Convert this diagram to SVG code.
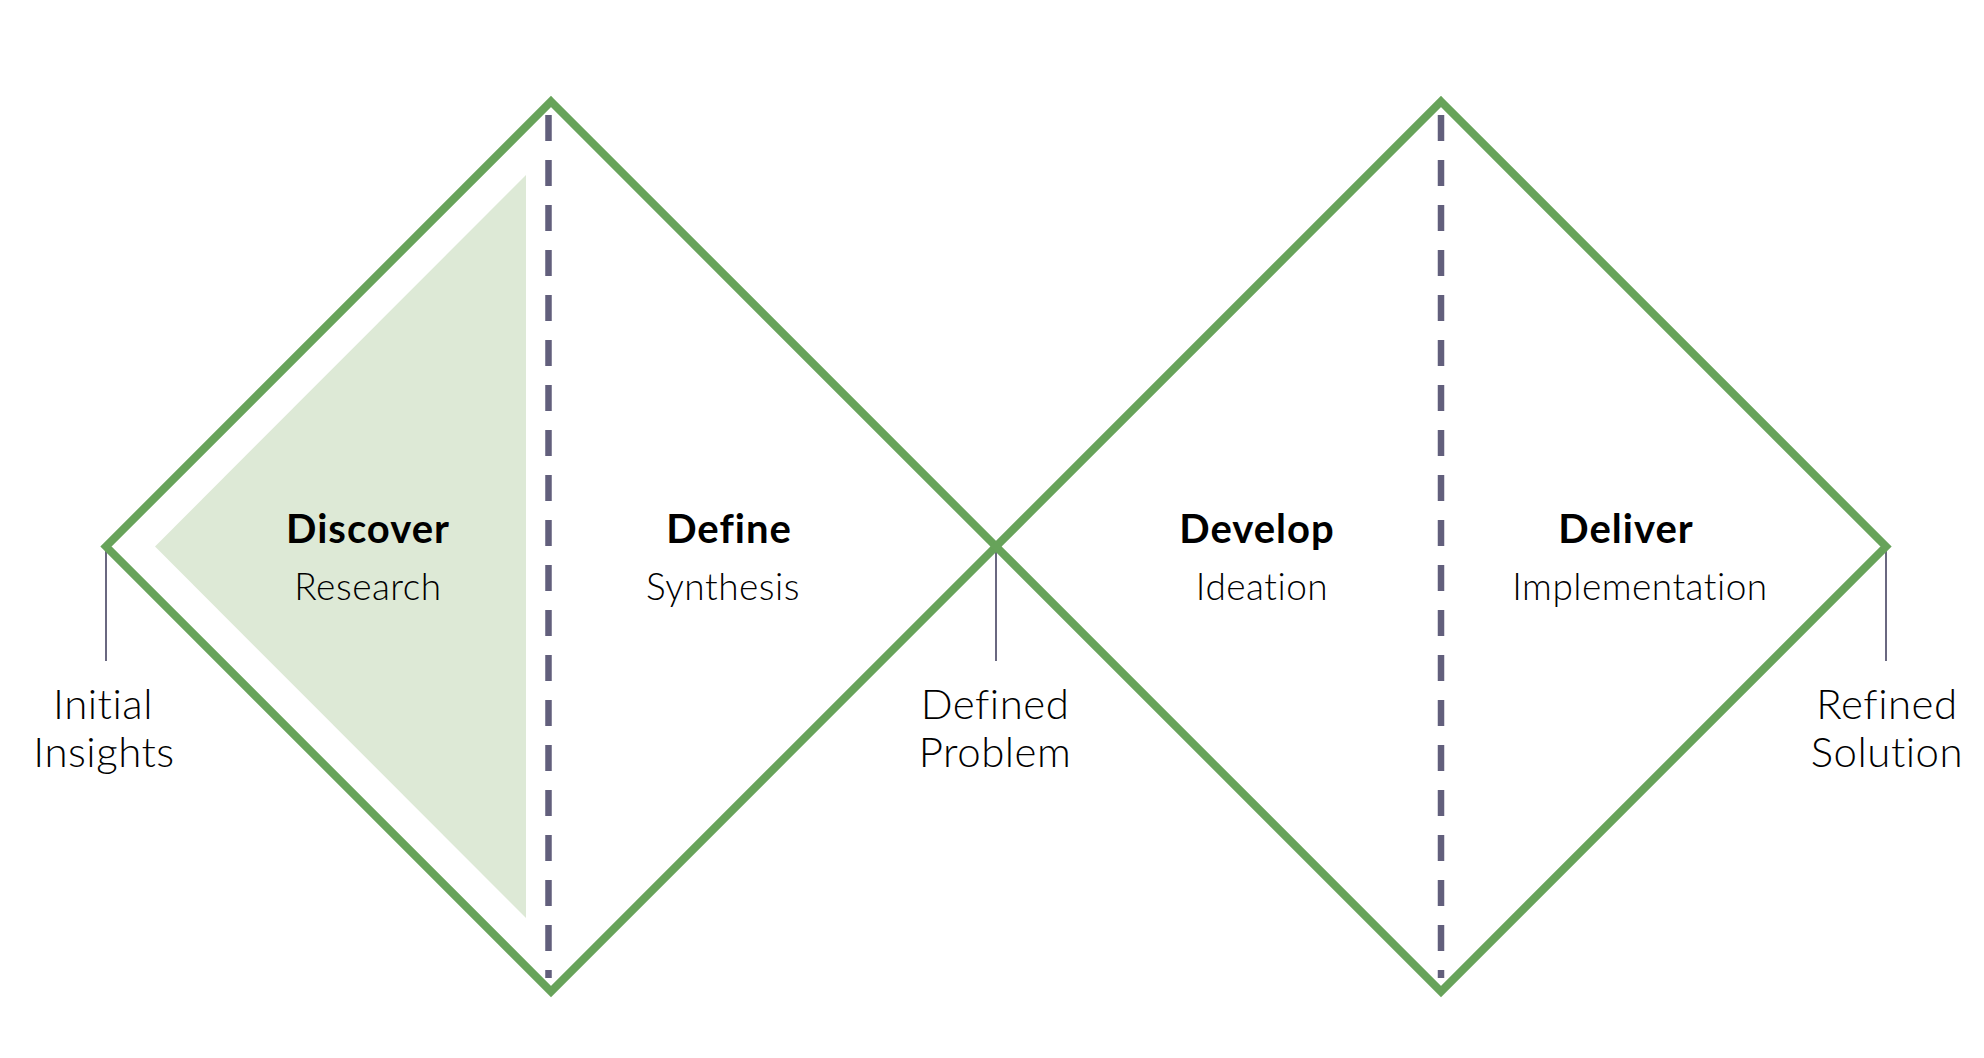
<svg xmlns="http://www.w3.org/2000/svg" width="1984" height="1058" viewBox="0 0 1984 1058">
<style>
.diamond{fill:none;stroke:#67a35a;stroke-width:8;stroke-linejoin:miter}
.split{stroke:#625f7c;stroke-width:6.5;stroke-dasharray:26 19}
.tick{stroke:#6a6880;stroke-width:2}
.h{font-family:Lato,"Open Sans","Liberation Sans",sans-serif;font-weight:700;font-size:40px;letter-spacing:1px;fill:#000;text-anchor:middle}
.s{font-family:Lato,"Open Sans","Liberation Sans",sans-serif;font-weight:300;font-size:37px;letter-spacing:0.5px;fill:#000;text-anchor:middle;font-variant-ligatures:none}
.l{font-family:Lato,"Open Sans","Liberation Sans",sans-serif;font-weight:300;font-size:42px;letter-spacing:0.5px;fill:#000;text-anchor:middle}
</style>
<rect width="1984" height="1058" fill="#fff"/>
<g id="discover-fill">
<polygon points="526,175 155,546.5 526,918" fill="#dde9d6"/>
</g>
<g id="connectors">
<line class="split" x1="548.5" y1="115" x2="548.5" y2="978"/>
<line class="split" x1="1441" y1="115" x2="1441" y2="978"/>
<line class="tick" x1="106" y1="546.5" x2="106" y2="661"/>
<line class="tick" x1="996" y1="546.5" x2="996" y2="661"/>
<line class="tick" x1="1886" y1="546.5" x2="1886" y2="661"/>
</g>
<g id="diamond-1">
<polygon class="diamond" points="551,101.5 996,546.5 551,991.5 106,546.5"/>
</g>
<g id="diamond-2">
<polygon class="diamond" points="1441,101.5 1886,546.5 1441,991.5 996,546.5"/>
</g>
<g id="discover">
<text class="h" x="368" y="543">Discover</text>
<text class="s" x="368" y="600">Research</text>
</g>
<g id="define">
<text class="h" x="729" y="543">Define</text>
<text class="s" x="723" y="600">Synthesis</text>
</g>
<g id="develop">
<text class="h" x="1257" y="543">Develop</text>
<text class="s" x="1262" y="600">Ideation</text>
</g>
<g id="deliver">
<text class="h" x="1626" y="543">Deliver</text>
<text class="s" x="1640" y="600">Implementation</text>
</g>
<g id="initial-insights">
<text class="l" x="103" y="719">Initial</text>
<text class="l" x="104" y="767">Insights</text>
</g>
<g id="defined-problem">
<text class="l" x="995" y="719">Defined</text>
<text class="l" x="995" y="767">Problem</text>
</g>
<g id="refined-solution">
<text class="l" x="1887" y="719">Refined</text>
<text class="l" x="1887" y="767">Solution</text>
</g>
</svg>
